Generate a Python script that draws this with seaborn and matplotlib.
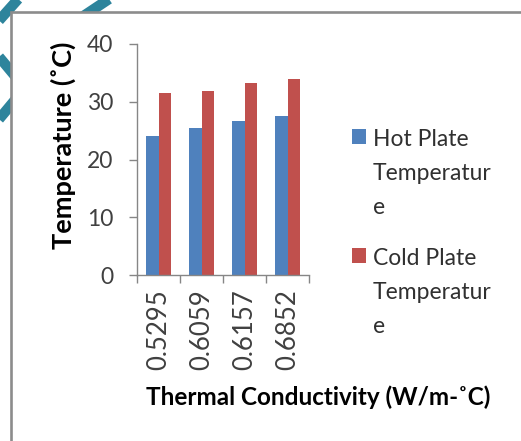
import matplotlib
matplotlib.use("Agg")
import matplotlib.pyplot as plt
import seaborn as sns
import pandas as pd
from matplotlib.patches import Rectangle, Patch
from matplotlib.lines import Line2D

categories = ["0.5295", "0.6059", "0.6157", "0.6852"]
hot_plate = [24.0, 25.5, 26.6, 27.6]
cold_plate = [31.5, 31.9, 33.2, 34.0]
series_names = ["Hot Plate\nTemperatur\ne", "Cold Plate\nTemperatur\ne"]
colors = ["#4F81BD", "#C0504D"]

df = pd.DataFrame({
    "k": categories * 2,
    "temp": hot_plate + cold_plate,
    "series": [series_names[0]] * 4 + [series_names[1]] * 4,
})

sns.set_theme(style="white")
plt.rcParams["font.family"] = ["Lato", "DejaVu Sans"]

W, H = 521, 441
fig = plt.figure(figsize=(W / 100, H / 100), dpi=100)
fig.patch.set_facecolor("white")

def fx(px):
    return px / W

def fy(py):
    return 1 - py / H

teal = "#2E849C"
for xs, ys in [([20, -5], [-3, 25]),
               ([-5, 25, -5], [52, 88, 124]),
               ([82, 118], [17, -7])]:
    fig.add_artist(Line2D([fx(x) for x in xs], [fy(y) for y in ys],
                          color=teal, lw=7.5, solid_capstyle="butt", zorder=0))

fig.add_artist(Rectangle((fx(11), fy(470)), fx(600), fy(12) - fy(470),
                         transform=fig.transFigure, facecolor="white",
                         edgecolor="#8C8C8C", lw=1.9, zorder=1))

ax = fig.add_axes([fx(137), fy(275), fx(309) - fx(137), fy(44) - fy(275)])
ax.set_zorder(5)
ax.patch.set_alpha(0)

sns.barplot(data=df, x="k", y="temp", hue="series", palette=colors,
            width=0.57, gap=0, ax=ax, legend=False, saturation=1,
            edgecolor="none")

ax.set_ylim(0, 40)
ax.set_xlim(-0.5, 3.5)
ax.set_yticks([0, 10, 20, 30, 40])
for s in ["top", "right"]:
    ax.spines[s].set_visible(False)
for s in ["left", "bottom"]:
    ax.spines[s].set_color("#868686")
    ax.spines[s].set_linewidth(1.0)

ax.tick_params(axis="y", direction="out", length=6, width=1, color="#868686",
               labelsize=16.5, labelcolor="#404040", pad=11, left=True)
ax.tick_params(axis="x", which="major", length=0, labelsize=18.5,
               labelcolor="#404040", pad=10, rotation=90)
ax.set_xticks([-0.5, 0.5, 1.5, 2.5, 3.5], minor=True)
ax.tick_params(axis="x", which="minor", direction="out", length=6, width=1,
               color="#868686", bottom=True)

ax.set_ylabel("Temperature (˚C)", fontsize=19.5, fontweight="bold", color="black")
ax.yaxis.set_label_coords(-0.43, 0.56)
ax.yaxis.label.set_va("center")
ax.set_xlabel("Thermal Conductivity (W/m-˚C)", fontsize=17.5, fontweight="bold",
              color="black")
ax.xaxis.set_label_coords(1.055, -0.53)
ax.xaxis.label.set_va("center")

handles = [Patch(facecolor=c, edgecolor="none") for c in colors]
leg = ax.legend(handles, series_names, loc="upper left",
                bbox_to_anchor=(fx(352), fy(129)), bbox_transform=fig.transFigure,
                frameon=False, fontsize=16.5, handlelength=0.62, handleheight=0.62,
                handletextpad=0.3, labelspacing=1.35, borderpad=0, borderaxespad=0)
for t in leg.get_texts():
    t.set_color("#303030")
    t.set_linespacing(1.75)
for col in leg._legend_handle_box.get_children():
    for row in col.get_children():
        row.align = "top"

fig.savefig("out.png", dpi=100)
